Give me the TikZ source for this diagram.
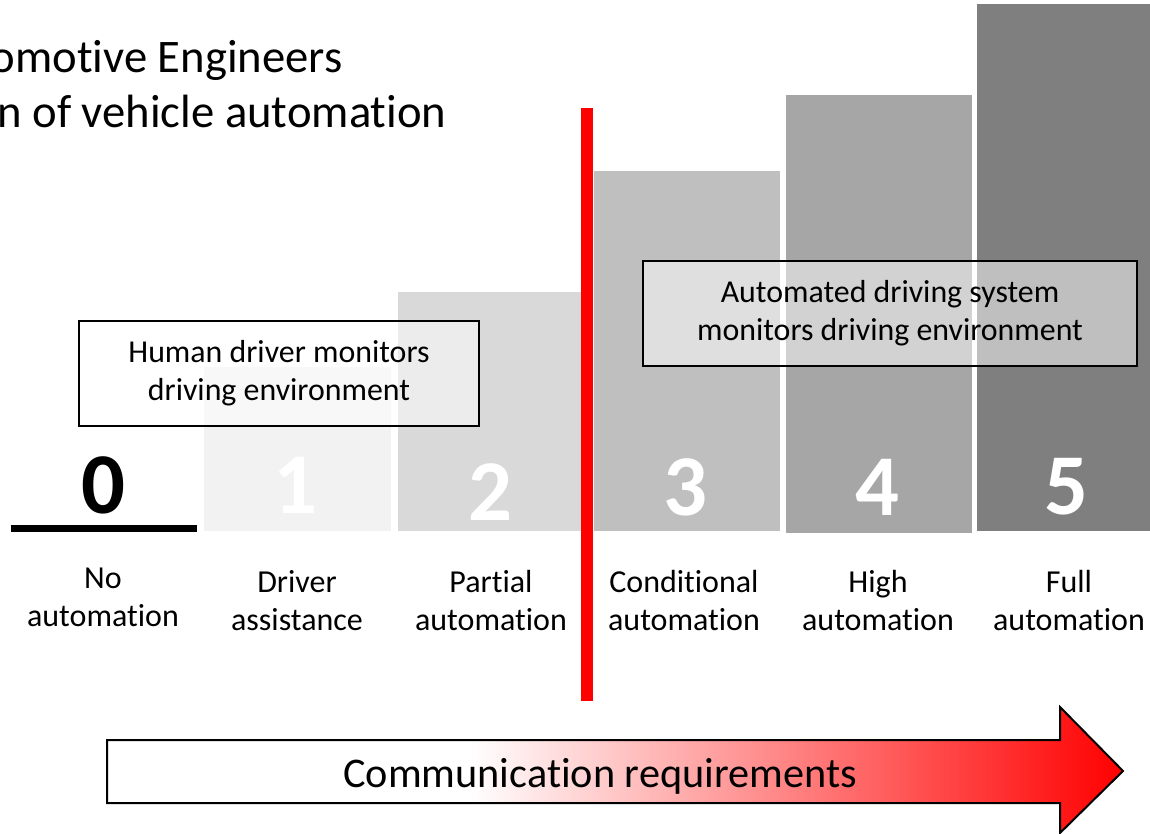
\documentclass[tikz,border=0pt]{standalone}
\usepackage{fontspec}
\setmainfont[Ligatures={NoCommon,NoContextual},Contextuals=NoAlternate]{Carlito}
\tikzset{every picture/.style={line width=0.75pt}}
\tikzset{
  monitorbox/.style={draw, line width=1pt, fill=white, fill opacity=0.5, text opacity=1, align=center, inner sep=0pt, font=\fontsize{23.9}{28.5}\selectfont},
  levelnum/.style={anchor=base, inner sep=0pt, text=white, font=\fontsize{65}{65}\selectfont\bfseries},
  levellabel/.style={align=center, inner sep=0pt, font=\fontsize{24}{28.5}\selectfont},
}

\begin{document}
\begin{tikzpicture}[x=0.75pt,y=0.75pt,yscale=-1,xscale=1]
    \useasboundingbox (0,0) rectangle (1150,834);

    %Shape: Rectangle (level 1)
    \fill [color={rgb, 255:red, 242; green, 242; blue, 242 }] (204,367) rectangle (391,531);
    %Shape: Rectangle (level 2)
    \fill [color={rgb, 255:red, 217; green, 217; blue, 217 }] (398,292) rectangle (581,531);
    %Shape: Rectangle (level 3)
    \fill [color={rgb, 255:red, 191; green, 191; blue, 191 }] (594,171) rectangle (780,531);
    %Shape: Rectangle (level 4)
    \fill [color={rgb, 255:red, 166; green, 166; blue, 166 }] (786,95) rectangle (972,533);
    %Shape: Rectangle (level 5)
    \fill [color={rgb, 255:red, 127; green, 127; blue, 127 }] (977,4) rectangle (1150,531);
    %Shape: Rectangle (level 0)
    \fill [color={rgb, 255:red, 0; green, 0; blue, 0 }] (11,525) rectangle (197,532);

    %Straight Lines (red border)
    \fill [color={rgb, 255:red, 255; green, 0; blue, 0 }] (581,108) rectangle (593,701);

    % Text Node
    \node (title1) [anchor=base east, inner sep=0pt, font=\fontsize{35}{42}\selectfont] at (343,73) {omotive Engineers};
    % Text Node
    \node (title2) [anchor=base east, inner sep=0pt, font=\fontsize{35}{42}\selectfont] at (447,128) {n of vehicle automation};

    % Text Node
    \node (humanbox) [monitorbox, minimum width=300pt, minimum height=78.75pt] at (279,373.5) {Human driver monitors\\driving environment};
    % Text Node
    \node (autobox) [monitorbox, minimum width=370.5pt, minimum height=78.75pt] at (890,313.5) {Automated driving system\\monitors driving environment};

    % Text Node
    \node (num0) [levelnum, text=black] at (103,513) {0};
    \node (num1) [levelnum] at (295,513) {1};
    \node (num2) [levelnum] at (490,520) {2};
    \node (num3) [levelnum] at (685,515) {3};
    \node (num4) [levelnum] at (877,515) {4};
    \node (num5) [levelnum] at (1066,514) {5};

    % Text Node
    \node (label0) [levellabel] at (103,597) {No\\automation};
    \node (label1) [levellabel] at (297,601) {Driver\\assistance};
    \node (label2) [levellabel] at (491,601) {Partial\\automation};
    \node (label3) [levellabel] at (684,601) {Conditional\\automation};
    \node (label4) [levellabel] at (878,601) {High\\automation};
    \node (label5) [levellabel] at (1069,601) {Full\\automation};

    %Right Arrow
    \begin{scope}
        \clip (107,740) -- (1060,740) -- (1060,707) -- (1123,771) -- (1060,833) -- (1060,803) -- (107,803) -- cycle;
        \fill [white] (100,700) rectangle (1130,834);
        \shade [left color=white, right color={rgb, 255:red, 255; green, 0; blue, 0 }] (470,700) rectangle (1124,834);
    \end{scope}
    \draw [line width=1.5pt, line join=miter] (107,740) -- (1060,740) -- (1060,707) -- (1123,771) -- (1060,833) -- (1060,803) -- (107,803) -- cycle;

    % Text Node
    \node (commtext) [anchor=base, inner sep=0pt, font=\fontsize{31.7}{38}\selectfont] at (600,787) {Communication requirements};

\end{tikzpicture}
\end{document}
